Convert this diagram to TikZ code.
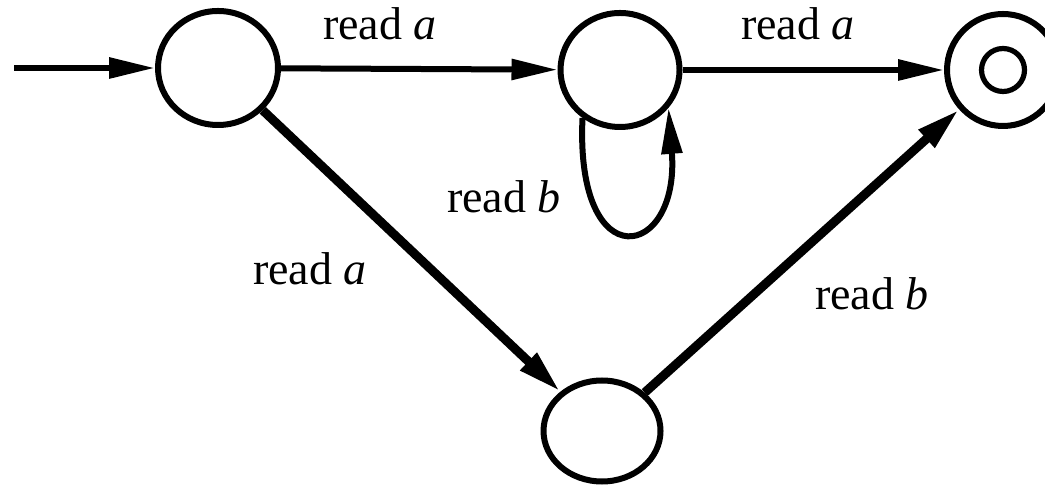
\documentclass[tikz,border=0pt]{standalone}
\usepackage{fontspec}
\setmainfont{Liberation Serif}
\usetikzlibrary{shapes.geometric,arrows.meta}
\tikzset{state/.style={draw, ellipse, line width=1.5pt, inner sep=0pt}}
\tikzset{trans/.style={-{Triangle[length=11.5pt,width=5pt]}, line width=1.5pt}}
\tikzset{heavytrans/.style={-{Triangle[length=11pt,width=5.5pt]}, line width=2.25pt}}
\tikzset{lbl/.style={anchor=base, inner sep=0pt, font=\fontsize{11.5}{14}\selectfont}}

\begin{document}
\begin{tikzpicture}[x=0.25pt, y=-0.25pt]
        \useasboundingbox (0,0) rectangle (1045,489);
        \node [state, minimum width=30pt, minimum height=28.5pt] (q0) at (218,68) {};
        \node [state, minimum width=29.75pt, minimum height=28.5pt] (q1) at (620,70) {};
        \node [state, circle, minimum size=28pt] (q2) at (1003,70) {};
        \node [draw, circle, line width=1.3pt, minimum size=10.75pt, inner sep=0pt] (q2in) at (q2) {};
        \node [state, minimum width=29.25pt, minimum height=25.25pt] (q3) at (602,431) {};
        \coordinate (start) at (14,68);
        \draw [trans] (start) -- (q0);
        \draw [trans] (q0) -- (q1);
        \draw [trans] (q1) -- (q2);
        \draw [trans] (q1.232) .. controls (575,280) and (680,260) .. (q1.322);
        \draw [heavytrans] (q0) -- (q3);
        \draw [heavytrans] (q3) -- (q2);
        \node [lbl] (la1) at (380,40) {read \textit{a}};
        \node [lbl] (la2) at (798,40) {read \textit{a}};
        \node [lbl] (lb1) at (504,213) {read \textit{b}};
        \node [lbl] (la3) at (310,285) {read \textit{a}};
        \node [lbl] (lb2) at (872,310) {read \textit{b}};
\end{tikzpicture}
\end{document}
